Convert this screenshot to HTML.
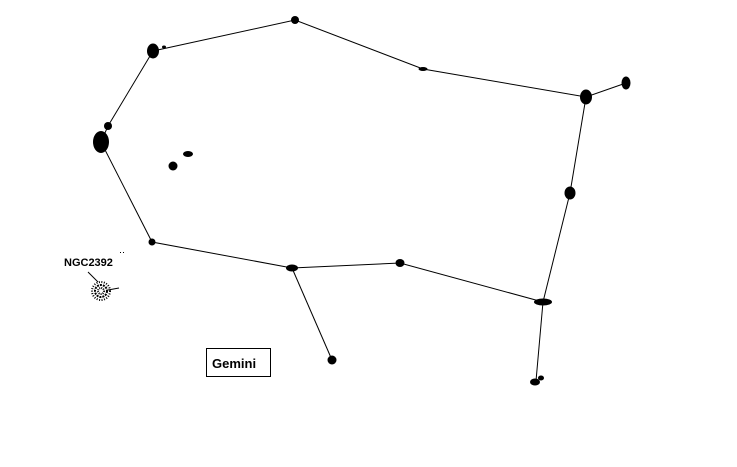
<!DOCTYPE html>
<html><head><style>body{margin:0;background:#fff}svg{display:block}</style></head><body>
<svg width="737" height="467" viewBox="0 0 737 467" xmlns="http://www.w3.org/2000/svg">
<rect width="737" height="467" fill="#fff"/>
<g stroke="#000" stroke-width="1" fill="none">
<polyline points="153,51 295,20 423,69 586,97 626,83"/>
<polyline points="586,97 570,193 543,302 536,381"/>
<polyline points="543,302 400,263 292,268 152,242 101,142 108,126 153,51"/>
<line x1="292" y1="268" x2="332" y2="360"/>
<line x1="88" y1="272" x2="98" y2="282"/>
<line x1="108" y1="290" x2="119" y2="288"/>
</g>
<g fill="#000">
<ellipse cx="153" cy="51" rx="6" ry="7.5"/>
<ellipse cx="164" cy="47" rx="2" ry="1.5"/>
<ellipse cx="295" cy="20" rx="4" ry="4"/>
<ellipse cx="423" cy="69" rx="4.5" ry="2"/>
<ellipse cx="586" cy="97" rx="6" ry="7.5"/>
<ellipse cx="626" cy="83" rx="4.5" ry="6.5"/>
<ellipse cx="570" cy="193" rx="5.5" ry="6.5"/>
<ellipse cx="543" cy="302" rx="9" ry="3.5"/>
<ellipse cx="535" cy="382" rx="5" ry="3.5"/>
<ellipse cx="541" cy="378" rx="3" ry="2.5"/>
<ellipse cx="400" cy="263" rx="4.5" ry="4"/>
<ellipse cx="292" cy="268" rx="6" ry="3.5"/>
<ellipse cx="332" cy="360" rx="4.5" ry="4.5"/>
<ellipse cx="152" cy="242" rx="3.5" ry="3.5"/>
<ellipse cx="101" cy="142" rx="8" ry="11"/>
<ellipse cx="108" cy="126" rx="4" ry="4"/>
<ellipse cx="188" cy="154" rx="5" ry="3"/>
<ellipse cx="173" cy="166" rx="4.5" ry="4.5"/>
<rect x="120" y="252" width="1" height="1"/><rect x="123" y="252" width="1" height="1"/>
</g>
<g fill="none" stroke="#000">
<circle cx="101" cy="291" r="9" stroke-width="2" stroke-dasharray="1 1.5"/>
<circle cx="101" cy="291" r="6" stroke-width="2" stroke-dasharray="2 1"/>
<circle cx="101" cy="291" r="3" stroke-width="2" stroke-dasharray="1 1"/>
</g>
<text x="64" y="266" font-family="Liberation Sans, sans-serif" font-size="11" font-weight="bold">NGC2392</text>
<rect x="206.5" y="348.5" width="64" height="28" fill="#fff" stroke="#000"/>
<text x="212" y="368" font-family="Liberation Sans, sans-serif" font-size="13" font-weight="bold">Gemini</text>
</svg>
</body></html>
